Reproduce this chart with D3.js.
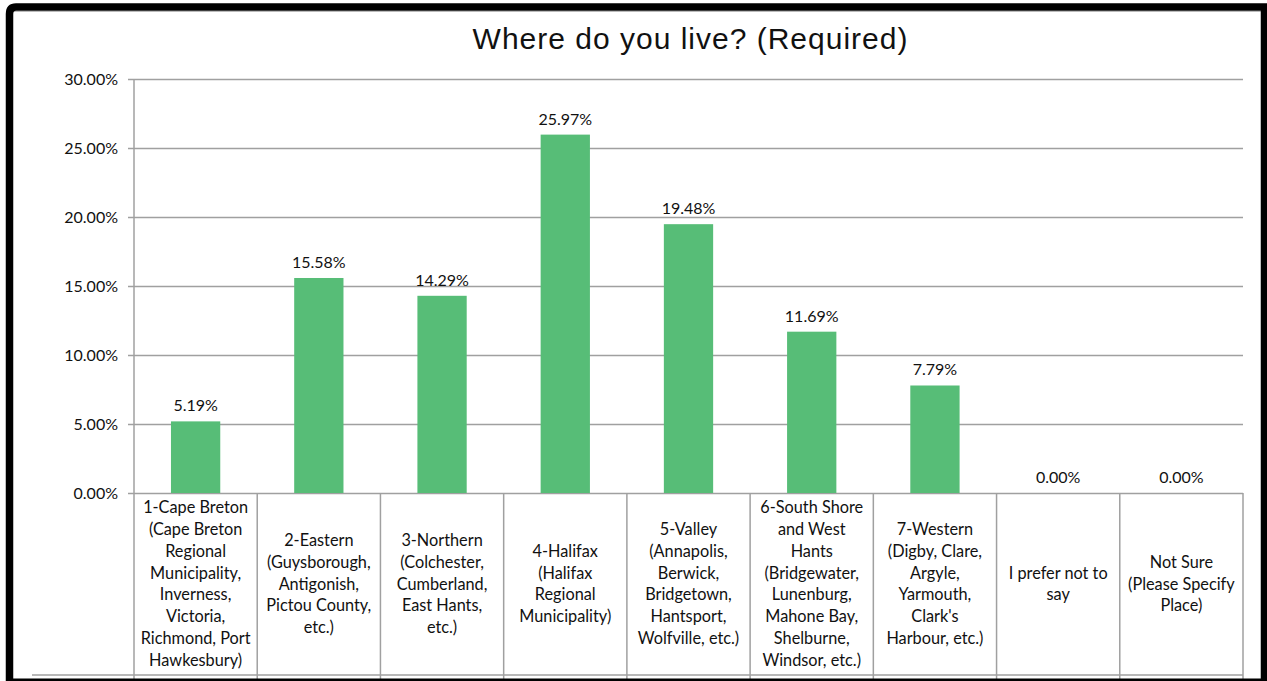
<!DOCTYPE html>
<html>
<head>
<meta charset="utf-8">
<script src="https://cdn.jsdelivr.net/npm/d3@7"></script>
<style>
  body { margin: 0; background: #fff; }
  text { font-family: Lato, "Open Sans", sans-serif; fill: #111; }
  .title { font-family: "Liberation Sans", Arial, sans-serif; }
</style>
</head>
<body>
<div id="chart"></div>
<script>
// chart data
const chartTitle = "Where do you live? (Required)";
const categories = [
  ["1-Cape Breton", "(Cape Breton", "Regional", "Municipality,", "Inverness,", "Victoria,", "Richmond, Port", "Hawkesbury)"],
  ["2-Eastern", "(Guysborough,", "Antigonish,", "Pictou County,", "etc.)"],
  ["3-Northern", "(Colchester,", "Cumberland,", "East Hants,", "etc.)"],
  ["4-Halifax", "(Halifax", "Regional", "Municipality)"],
  ["5-Valley", "(Annapolis,", "Berwick,", "Bridgetown,", "Hantsport,", "Wolfville, etc.)"],
  ["6-South Shore", "and West", "Hants", "(Bridgewater,", "Lunenburg,", "Mahone Bay,", "Shelburne,", "Windsor, etc.)"],
  ["7-Western", "(Digby, Clare,", "Argyle,", "Yarmouth,", "Clark's", "Harbour, etc.)"],
  ["I prefer not to", "say"],
  ["Not Sure", "(Please Specify", "Place)"]
];
const shares = [0.0519, 0.1558, 0.1429, 0.2597, 0.1948, 0.1169, 0.0779, 0, 0];
const yTicks = [0, 0.05, 0.10, 0.15, 0.20, 0.25, 0.30];

const width = 1267, height = 681;
const margin = { top: 79, right: 24, bottom: 188, left: 134 };
const tableBottom = 675;
const gridColor = "#a0a0a0";
const barColor = "#57bd77";

const svg = d3.select("#chart").append("svg")
  .attr("width", width)
  .attr("height", height);

const keys = categories.map((d, i) => i);

// category cells (table columns)
const xCell = d3.scaleBand()
  .domain(keys)
  .range([margin.left, width - margin.right]);

// bars sit in the middle 40% of each cell
const xBar = d3.scaleBand()
  .domain(keys)
  .range([margin.left, width - margin.right])
  .paddingInner(0.6)
  .paddingOuter(0.3);

const y = d3.scaleLinear()
  .domain([0, 0.3])
  .range([height - margin.bottom, margin.top]);

// gridlines + ticks
const yAxis = d3.axisLeft(y)
  .tickValues(yTicks)
  .tickFormat(d3.format(".2%"))
  .tickSize(-(width - margin.right - margin.left + 6))
  .tickPadding(10);

const yAxisGroup = svg.append("g")
  .attr("transform", `translate(${margin.left - 6}, 0)`)
  .call(yAxis);
yAxisGroup.select(".domain").remove();
yAxisGroup.selectAll(".tick line")
  .attr("stroke", gridColor)
  .attr("stroke-width", 1.5)
  .attr("x1", 0)
  .attr("x2", width - margin.right - margin.left + 6);
yAxisGroup.selectAll(".tick text")
  .attr("x", -10)
  .style("font-family", "Lato, sans-serif")
  .style("font-size", "16px")
  .attr("fill", "#111");

// table under the chart
svg.append("line")
  .attr("x1", 32).attr("x2", width - margin.right)
  .attr("y1", tableBottom).attr("y2", tableBottom)
  .attr("stroke", gridColor).attr("stroke-width", 1.5);

const cellEdges = keys.map(k => xCell(k)).concat([xCell(keys[keys.length - 1]) + xCell.bandwidth()]);
svg.selectAll("line.cell-edge")
  .data(cellEdges)
  .join("line")
  .attr("class", "cell-edge")
  .attr("x1", d => d).attr("x2", d => d)
  .attr("y1", (d, i) => i === 0 ? margin.top : y(0))
  .attr("y2", height)
  .attr("stroke", gridColor)
  .attr("stroke-width", 1.5);

// bars
svg.selectAll("rect.bar")
  .data(shares)
  .join("rect")
  .attr("class", "bar")
  .attr("x", (d, i) => xBar(i))
  .attr("width", xBar.bandwidth())
  .attr("y", d => y(d))
  .attr("height", d => y(0) - y(d))
  .attr("fill", barColor);

// value labels
svg.selectAll("text.value")
  .data(shares)
  .join("text")
  .attr("class", "value")
  .attr("x", (d, i) => xCell(i) + xCell.bandwidth() / 2)
  .attr("y", d => y(d) - 10)
  .attr("text-anchor", "middle")
  .style("font-size", "16px")
  .text(d => d3.format(".2%")(d));

// category labels, centred in each cell
const lineH = 21.9;
const cellMid = (y(0) + tableBottom) / 2;
const labels = svg.selectAll("text.cat")
  .data(categories)
  .join("text")
  .attr("class", "cat")
  .attr("text-anchor", "middle")
  .style("font-size", "16.3px");
labels.each(function (lines, i) {
  const cx = xCell(i) + xCell.bandwidth() / 2;
  const y0 = cellMid - (lines.length - 1) / 2 * lineH + 5.5;
  d3.select(this).selectAll("tspan")
    .data(lines)
    .join("tspan")
    .attr("x", cx)
    .attr("y", (d, j) => y0 + j * lineH)
    .text(d => d);
});

// title
svg.append("text")
  .attr("class", "title")
  .attr("x", (margin.left + width - margin.right) / 2 + 2)
  .attr("y", 49)
  .attr("text-anchor", "middle")
  .style("font-size", "30px")
  .style("letter-spacing", "1px")
  .text(chartTitle);

// black screenshot frame
svg.append("line").attr("x1", 12).attr("x2", 1262).attr("y1", 11.5).attr("y2", 11.5)
  .attr("stroke", "#bbb").attr("stroke-width", 1);
svg.append("path")
  .attr("d", "M9.5,681 V14 Q9.5,7 16,7 H1264.5 V681")
  .attr("fill", "none")
  .attr("stroke", "#000")
  .attr("stroke-width", 7.5);
svg.append("line").attr("x1", 6).attr("x2", 1267).attr("y1", 680).attr("y2", 680)
  .attr("stroke", "#000").attr("stroke-width", 3);
</script>
</body>
</html>
